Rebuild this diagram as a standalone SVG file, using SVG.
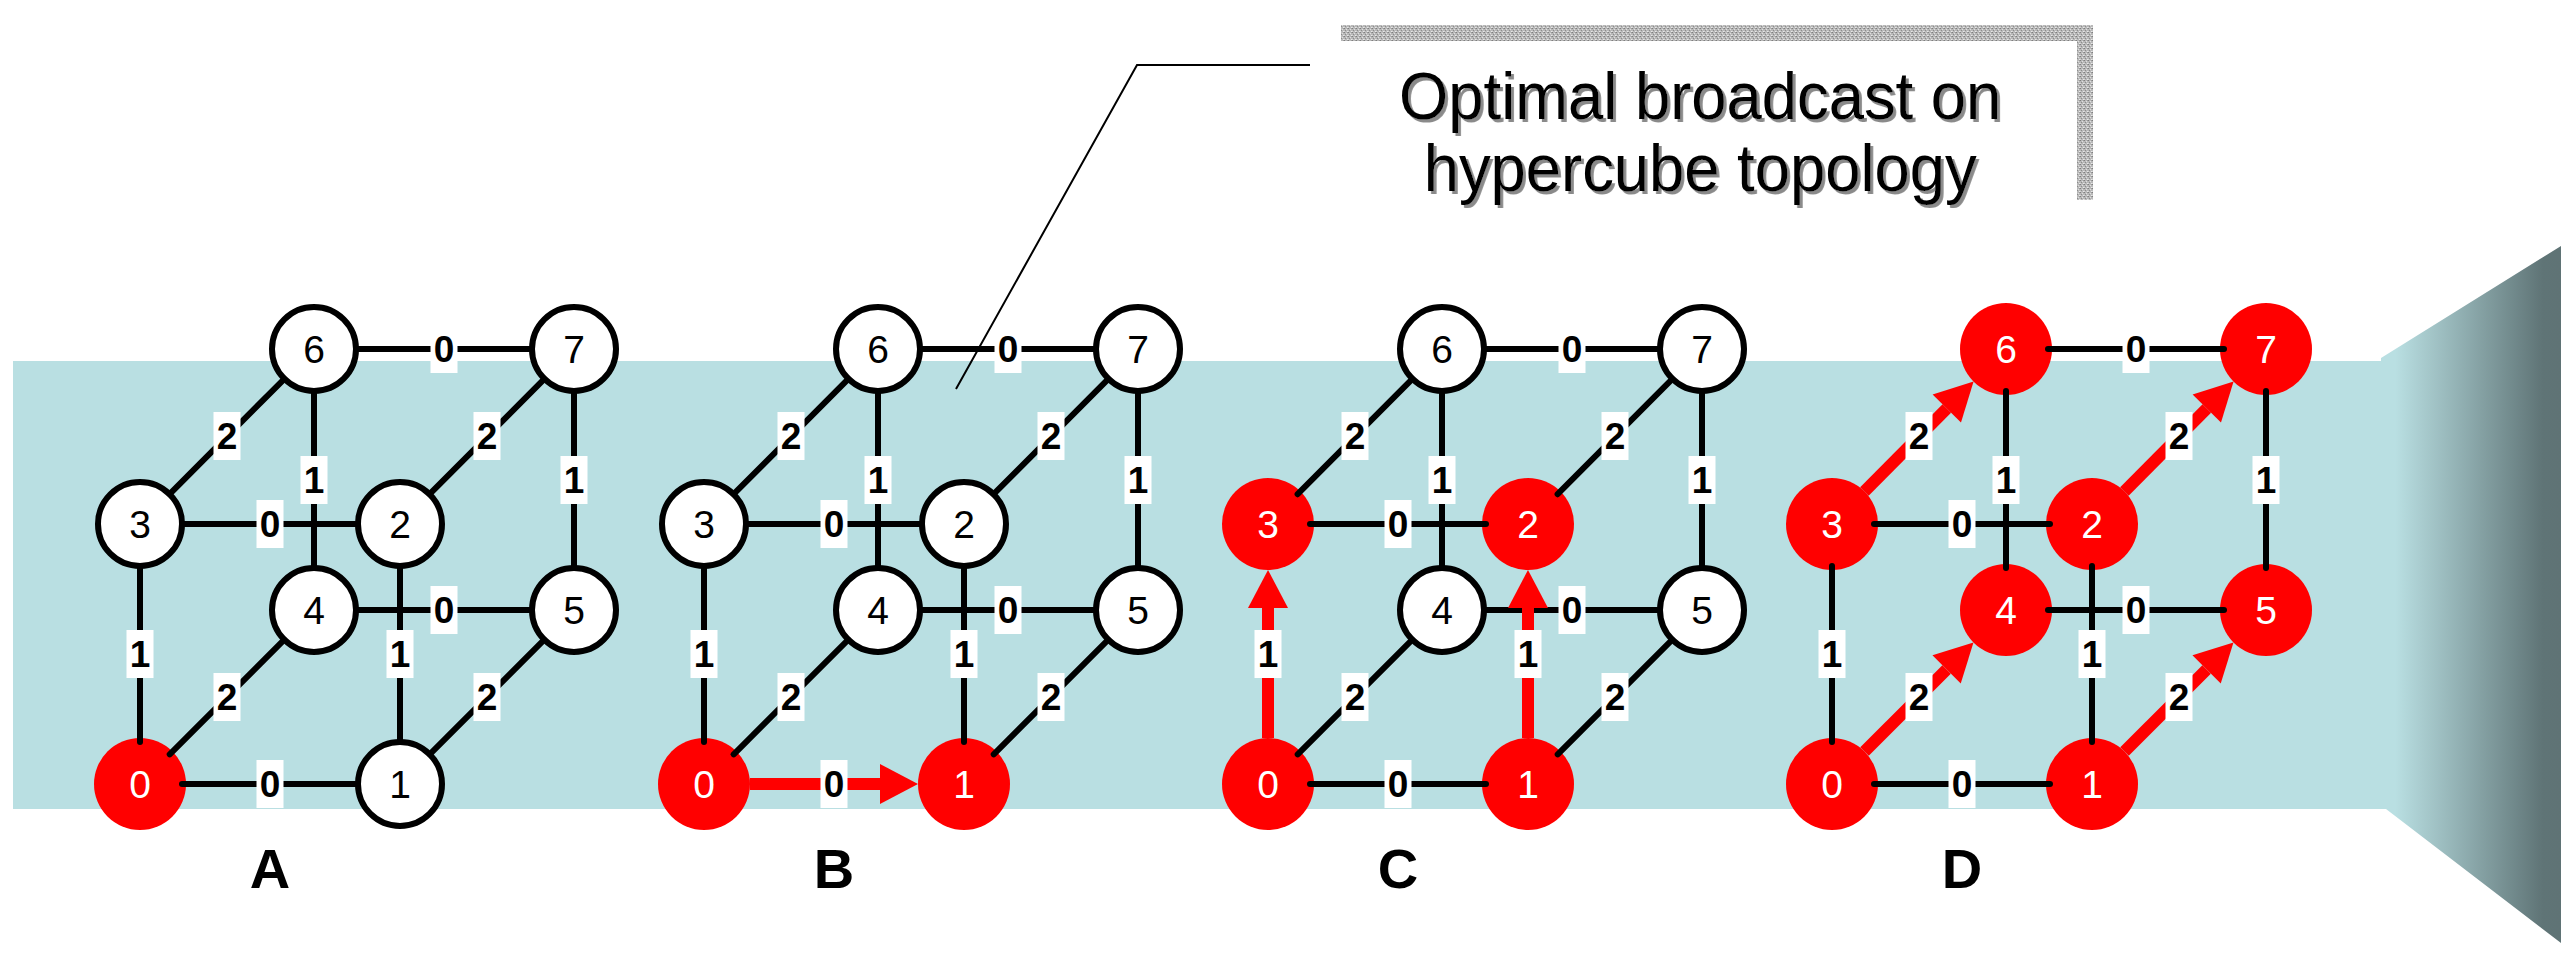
<svg xmlns="http://www.w3.org/2000/svg" width="2561" height="961" viewBox="0 0 2561 961">
<style>
.wn{fill:#ffffff;stroke:#000000;stroke-width:6}
.rn{fill:#ff0000}
.wt{font-family:"Liberation Sans",Arial,sans-serif;font-size:39px;fill:#000000;text-anchor:middle}
.rt{font-family:"Liberation Sans",Arial,sans-serif;font-size:39px;fill:#ffffff;text-anchor:middle}
.e{stroke:#000000;stroke-width:6;stroke-linecap:round;fill:none}
.ra{stroke:#ff0000;stroke-width:12;fill:none;marker-end:url(#ah)}
.lb{fill:#ffffff}
.lt{font-family:"Liberation Sans",Arial,sans-serif;font-size:37px;font-weight:bold;fill:#000000;text-anchor:middle}
.pl{font-family:"Liberation Sans",Arial,sans-serif;font-size:56px;font-weight:bold;fill:#000000;text-anchor:middle}
.tt{font-family:"Liberation Sans",Arial,sans-serif;font-size:66px;text-anchor:middle;fill:#000000}
</style>
<defs>
<marker id="ah" markerUnits="userSpaceOnUse" markerWidth="40" markerHeight="42" viewBox="0 -21 40 42" refX="0" refY="0" orient="auto" overflow="visible">
<path d="M0,-20 L38,0 L0,20 Z" fill="#ff0000"/>
</marker>
<linearGradient id="wg" gradientUnits="userSpaceOnUse" x1="2381" y1="0" x2="2561" y2="0">
<stop offset="0.08" stop-color="#b9dfe2"/>
<stop offset="0.9" stop-color="#5f7476"/>
<stop offset="1" stop-color="#5f7375"/>
</linearGradient>
<pattern id="tex" patternUnits="userSpaceOnUse" width="4" height="4">
<rect width="4" height="4" fill="#b8b8b8"/>
<rect x="0" y="0" width="1" height="1" fill="#7e7e7e"/>
<rect x="2" y="1" width="1" height="1" fill="#e0e0e0"/>
<rect x="1" y="2" width="1" height="1" fill="#8c8c8c"/>
<rect x="3" y="3" width="1" height="1" fill="#e8e8e8"/>
<rect x="3" y="0" width="1" height="1" fill="#9a9a9a"/>
<rect x="0" y="3" width="1" height="1" fill="#d4d4d4"/>
</pattern>
<filter id="shadow" x="-5%" y="-20%" width="110%" height="140%">
<feDropShadow dx="3" dy="3" stdDeviation="0.5" flood-color="#8a8a8a" flood-opacity="1"/>
</filter>
</defs>
<rect width="2561" height="961" fill="#ffffff"/>
<g id="band">
<rect x="13" y="361" width="2371" height="448" fill="#b9dfe2"/>
<polygon points="2381,358 2561,246 2561,943 2386,809 2381,809" fill="url(#wg)"/>
</g>
<g id="title">
<rect x="1341" y="25" width="752" height="16" fill="url(#tex)"/>
<rect x="2077" y="25" width="16" height="175" fill="url(#tex)"/>
<g transform="scale(0.96,1)" filter="url(#shadow)">
<text class="tt" x="1771" y="119">Optimal broadcast on</text>
<text class="tt" x="1771" y="191">hypercube topology</text>
</g>
<polyline points="1310,65 1137,65 956,389" fill="none" stroke="#000000" stroke-width="2"/>
</g>
<g id="panel-labels">
<text class="pl" x="270" y="888">A</text>
<text class="pl" x="834" y="888">B</text>
<text class="pl" x="1398" y="888">C</text>
<text class="pl" x="1962" y="888">D</text>
</g>
<!-- Panel A -->
<g id="A-n0"><circle class="rn" cx="140" cy="784" r="46"/><text class="rt" x="140" y="798">0</text></g>
<g id="A-n1"><circle class="wn" cx="400" cy="784" r="42"/><text class="wt" x="400" y="798">1</text></g>
<g id="A-n2"><circle class="wn" cx="400" cy="524" r="42"/><text class="wt" x="400" y="538">2</text></g>
<g id="A-n3"><circle class="wn" cx="140" cy="524" r="42"/><text class="wt" x="140" y="538">3</text></g>
<g id="A-n4"><circle class="wn" cx="314" cy="610" r="42"/><text class="wt" x="314" y="624">4</text></g>
<g id="A-n5"><circle class="wn" cx="574" cy="610" r="42"/><text class="wt" x="574" y="624">5</text></g>
<g id="A-n6"><circle class="wn" cx="314" cy="349" r="42"/><text class="wt" x="314" y="363">6</text></g>
<g id="A-n7"><circle class="wn" cx="574" cy="349" r="42"/><text class="wt" x="574" y="363">7</text></g>
<!-- Panel B -->
<g id="B-n0"><circle class="rn" cx="704" cy="784" r="46"/><text class="rt" x="704" y="798">0</text></g>
<g id="B-n1"><circle class="rn" cx="964" cy="784" r="46"/><text class="rt" x="964" y="798">1</text></g>
<g id="B-n2"><circle class="wn" cx="964" cy="524" r="42"/><text class="wt" x="964" y="538">2</text></g>
<g id="B-n3"><circle class="wn" cx="704" cy="524" r="42"/><text class="wt" x="704" y="538">3</text></g>
<g id="B-n4"><circle class="wn" cx="878" cy="610" r="42"/><text class="wt" x="878" y="624">4</text></g>
<g id="B-n5"><circle class="wn" cx="1138" cy="610" r="42"/><text class="wt" x="1138" y="624">5</text></g>
<g id="B-n6"><circle class="wn" cx="878" cy="349" r="42"/><text class="wt" x="878" y="363">6</text></g>
<g id="B-n7"><circle class="wn" cx="1138" cy="349" r="42"/><text class="wt" x="1138" y="363">7</text></g>
<!-- Panel C -->
<g id="C-n0"><circle class="rn" cx="1268" cy="784" r="46"/><text class="rt" x="1268" y="798">0</text></g>
<g id="C-n1"><circle class="rn" cx="1528" cy="784" r="46"/><text class="rt" x="1528" y="798">1</text></g>
<g id="C-n2"><circle class="rn" cx="1528" cy="524" r="46"/><text class="rt" x="1528" y="538">2</text></g>
<g id="C-n3"><circle class="rn" cx="1268" cy="524" r="46"/><text class="rt" x="1268" y="538">3</text></g>
<g id="C-n4"><circle class="wn" cx="1442" cy="610" r="42"/><text class="wt" x="1442" y="624">4</text></g>
<g id="C-n5"><circle class="wn" cx="1702" cy="610" r="42"/><text class="wt" x="1702" y="624">5</text></g>
<g id="C-n6"><circle class="wn" cx="1442" cy="349" r="42"/><text class="wt" x="1442" y="363">6</text></g>
<g id="C-n7"><circle class="wn" cx="1702" cy="349" r="42"/><text class="wt" x="1702" y="363">7</text></g>
<!-- Panel D -->
<g id="D-n0"><circle class="rn" cx="1832" cy="784" r="46"/><text class="rt" x="1832" y="798">0</text></g>
<g id="D-n1"><circle class="rn" cx="2092" cy="784" r="46"/><text class="rt" x="2092" y="798">1</text></g>
<g id="D-n2"><circle class="rn" cx="2092" cy="524" r="46"/><text class="rt" x="2092" y="538">2</text></g>
<g id="D-n3"><circle class="rn" cx="1832" cy="524" r="46"/><text class="rt" x="1832" y="538">3</text></g>
<g id="D-n4"><circle class="rn" cx="2006" cy="610" r="46"/><text class="rt" x="2006" y="624">4</text></g>
<g id="D-n5"><circle class="rn" cx="2266" cy="610" r="46"/><text class="rt" x="2266" y="624">5</text></g>
<g id="D-n6"><circle class="rn" cx="2006" cy="349" r="46"/><text class="rt" x="2006" y="363">6</text></g>
<g id="D-n7"><circle class="rn" cx="2266" cy="349" r="46"/><text class="rt" x="2266" y="363">7</text></g>
<g id="connectors">
<!-- Panel A edges -->
<line class="e" x1="182" y1="784" x2="358" y2="784"/>
<line class="e" x1="182" y1="524" x2="358" y2="524"/>
<line class="e" x1="356" y1="610" x2="532" y2="610"/>
<line class="e" x1="356" y1="349" x2="532" y2="349"/>
<line class="e" x1="140" y1="742" x2="140" y2="566"/>
<line class="e" x1="400" y1="742" x2="400" y2="566"/>
<line class="e" x1="314" y1="568" x2="314" y2="391"/>
<line class="e" x1="574" y1="568" x2="574" y2="391"/>
<line class="e" x1="169.7" y1="754.3" x2="284.3" y2="639.7"/>
<line class="e" x1="429.7" y1="754.3" x2="544.3" y2="639.7"/>
<line class="e" x1="169.6" y1="494.2" x2="284.4" y2="378.8"/>
<line class="e" x1="429.6" y1="494.2" x2="544.4" y2="378.8"/>
<!-- Panel B edges -->
<line class="ra" x1="750" y1="784" x2="880" y2="784"/>
<line class="e" x1="746" y1="524" x2="922" y2="524"/>
<line class="e" x1="920" y1="610" x2="1096" y2="610"/>
<line class="e" x1="920" y1="349" x2="1096" y2="349"/>
<line class="e" x1="704" y1="742" x2="704" y2="566"/>
<line class="e" x1="964" y1="742" x2="964" y2="566"/>
<line class="e" x1="878" y1="568" x2="878" y2="391"/>
<line class="e" x1="1138" y1="568" x2="1138" y2="391"/>
<line class="e" x1="733.7" y1="754.3" x2="848.3" y2="639.7"/>
<line class="e" x1="993.7" y1="754.3" x2="1108.3" y2="639.7"/>
<line class="e" x1="733.6" y1="494.2" x2="848.4" y2="378.8"/>
<line class="e" x1="993.6" y1="494.2" x2="1108.4" y2="378.8"/>
<!-- Panel C edges -->
<line class="e" x1="1310" y1="784" x2="1486" y2="784"/>
<line class="e" x1="1310" y1="524" x2="1486" y2="524"/>
<line class="e" x1="1484" y1="610" x2="1660" y2="610"/>
<line class="e" x1="1484" y1="349" x2="1660" y2="349"/>
<line class="ra" x1="1268" y1="738" x2="1268" y2="608"/>
<line class="ra" x1="1528" y1="738" x2="1528" y2="608"/>
<line class="e" x1="1442" y1="568" x2="1442" y2="391"/>
<line class="e" x1="1702" y1="568" x2="1702" y2="391"/>
<line class="e" x1="1297.7" y1="754.3" x2="1412.3" y2="639.7"/>
<line class="e" x1="1557.7" y1="754.3" x2="1672.3" y2="639.7"/>
<line class="e" x1="1297.6" y1="494.2" x2="1412.4" y2="378.8"/>
<line class="e" x1="1557.6" y1="494.2" x2="1672.4" y2="378.8"/>
<!-- Panel D edges -->
<line class="e" x1="1874" y1="784" x2="2050" y2="784"/>
<line class="e" x1="1874" y1="524" x2="2050" y2="524"/>
<line class="e" x1="2048" y1="610" x2="2224" y2="610"/>
<line class="e" x1="2048" y1="349" x2="2224" y2="349"/>
<line class="e" x1="1832" y1="742" x2="1832" y2="566"/>
<line class="e" x1="2092" y1="742" x2="2092" y2="566"/>
<line class="e" x1="2006" y1="568" x2="2006" y2="391"/>
<line class="e" x1="2266" y1="568" x2="2266" y2="391"/>
<line class="ra" x1="1864.5" y1="751.5" x2="1946.6" y2="669.4"/>
<line class="ra" x1="2124.5" y1="751.5" x2="2206.6" y2="669.4"/>
<line class="ra" x1="1864.4" y1="491.4" x2="1946.8" y2="408.5"/>
<line class="ra" x1="2124.4" y1="491.4" x2="2206.8" y2="408.5"/>
</g>
<g id="edge-labels">
<!-- A -->
<rect class="lb" x="256.5" y="760" width="27" height="48"/><text class="lt" x="270" y="797">0</text>
<rect class="lb" x="256.5" y="500" width="27" height="48"/><text class="lt" x="270" y="537">0</text>
<rect class="lb" x="430.5" y="586" width="27" height="48"/><text class="lt" x="444" y="623">0</text>
<rect class="lb" x="430.5" y="325" width="27" height="48"/><text class="lt" x="444" y="362">0</text>
<rect class="lb" x="126.5" y="630" width="27" height="48"/><text class="lt" x="140" y="667">1</text>
<rect class="lb" x="386.5" y="630" width="27" height="48"/><text class="lt" x="400" y="667">1</text>
<rect class="lb" x="300.5" y="456" width="27" height="48"/><text class="lt" x="314" y="493">1</text>
<rect class="lb" x="560.5" y="456" width="27" height="48"/><text class="lt" x="574" y="493">1</text>
<rect class="lb" x="213.5" y="673" width="27" height="48"/><text class="lt" x="227" y="710">2</text>
<rect class="lb" x="473.5" y="673" width="27" height="48"/><text class="lt" x="487" y="710">2</text>
<rect class="lb" x="213.5" y="412" width="27" height="48"/><text class="lt" x="227" y="449">2</text>
<rect class="lb" x="473.5" y="412" width="27" height="48"/><text class="lt" x="487" y="449">2</text>
<!-- B -->
<rect class="lb" x="820.5" y="760" width="27" height="48"/><text class="lt" x="834" y="797">0</text>
<rect class="lb" x="820.5" y="500" width="27" height="48"/><text class="lt" x="834" y="537">0</text>
<rect class="lb" x="994.5" y="586" width="27" height="48"/><text class="lt" x="1008" y="623">0</text>
<rect class="lb" x="994.5" y="325" width="27" height="48"/><text class="lt" x="1008" y="362">0</text>
<rect class="lb" x="690.5" y="630" width="27" height="48"/><text class="lt" x="704" y="667">1</text>
<rect class="lb" x="950.5" y="630" width="27" height="48"/><text class="lt" x="964" y="667">1</text>
<rect class="lb" x="864.5" y="456" width="27" height="48"/><text class="lt" x="878" y="493">1</text>
<rect class="lb" x="1124.5" y="456" width="27" height="48"/><text class="lt" x="1138" y="493">1</text>
<rect class="lb" x="777.5" y="673" width="27" height="48"/><text class="lt" x="791" y="710">2</text>
<rect class="lb" x="1037.5" y="673" width="27" height="48"/><text class="lt" x="1051" y="710">2</text>
<rect class="lb" x="777.5" y="412" width="27" height="48"/><text class="lt" x="791" y="449">2</text>
<rect class="lb" x="1037.5" y="412" width="27" height="48"/><text class="lt" x="1051" y="449">2</text>
<!-- C -->
<rect class="lb" x="1384.5" y="760" width="27" height="48"/><text class="lt" x="1398" y="797">0</text>
<rect class="lb" x="1384.5" y="500" width="27" height="48"/><text class="lt" x="1398" y="537">0</text>
<rect class="lb" x="1558.5" y="586" width="27" height="48"/><text class="lt" x="1572" y="623">0</text>
<rect class="lb" x="1558.5" y="325" width="27" height="48"/><text class="lt" x="1572" y="362">0</text>
<rect class="lb" x="1254.5" y="630" width="27" height="48"/><text class="lt" x="1268" y="667">1</text>
<rect class="lb" x="1514.5" y="630" width="27" height="48"/><text class="lt" x="1528" y="667">1</text>
<rect class="lb" x="1428.5" y="456" width="27" height="48"/><text class="lt" x="1442" y="493">1</text>
<rect class="lb" x="1688.5" y="456" width="27" height="48"/><text class="lt" x="1702" y="493">1</text>
<rect class="lb" x="1341.5" y="673" width="27" height="48"/><text class="lt" x="1355" y="710">2</text>
<rect class="lb" x="1601.5" y="673" width="27" height="48"/><text class="lt" x="1615" y="710">2</text>
<rect class="lb" x="1341.5" y="412" width="27" height="48"/><text class="lt" x="1355" y="449">2</text>
<rect class="lb" x="1601.5" y="412" width="27" height="48"/><text class="lt" x="1615" y="449">2</text>
<!-- D -->
<rect class="lb" x="1948.5" y="760" width="27" height="48"/><text class="lt" x="1962" y="797">0</text>
<rect class="lb" x="1948.5" y="500" width="27" height="48"/><text class="lt" x="1962" y="537">0</text>
<rect class="lb" x="2122.5" y="586" width="27" height="48"/><text class="lt" x="2136" y="623">0</text>
<rect class="lb" x="2122.5" y="325" width="27" height="48"/><text class="lt" x="2136" y="362">0</text>
<rect class="lb" x="1818.5" y="630" width="27" height="48"/><text class="lt" x="1832" y="667">1</text>
<rect class="lb" x="2078.5" y="630" width="27" height="48"/><text class="lt" x="2092" y="667">1</text>
<rect class="lb" x="1992.5" y="456" width="27" height="48"/><text class="lt" x="2006" y="493">1</text>
<rect class="lb" x="2252.5" y="456" width="27" height="48"/><text class="lt" x="2266" y="493">1</text>
<rect class="lb" x="1905.5" y="673" width="27" height="48"/><text class="lt" x="1919" y="710">2</text>
<rect class="lb" x="2165.5" y="673" width="27" height="48"/><text class="lt" x="2179" y="710">2</text>
<rect class="lb" x="1905.5" y="412" width="27" height="48"/><text class="lt" x="1919" y="449">2</text>
<rect class="lb" x="2165.5" y="412" width="27" height="48"/><text class="lt" x="2179" y="449">2</text>
</g>
</svg>
